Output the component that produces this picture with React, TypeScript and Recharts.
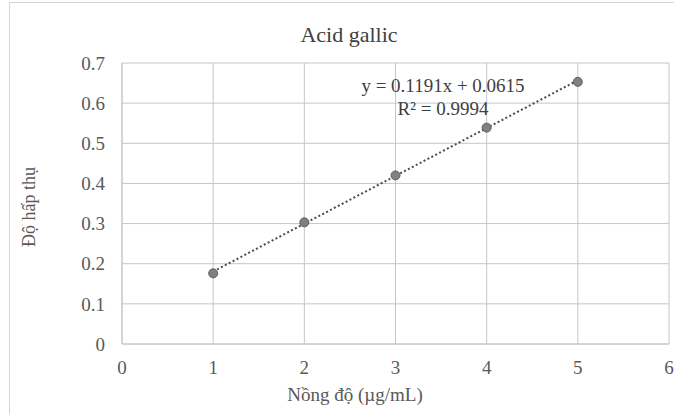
import React from "react";
import {
  ComposedChart,
  Scatter,
  Line,
  XAxis,
  YAxis,
  CartesianGrid,
} from "recharts";

// concentration (µg/mL) and absorbance
const concentrations = [1, 2, 3, 4, 5];
const absorbances = [0.176, 0.303, 0.42, 0.539, 0.653];

// linear trendline from the equation printed on the chart, x = 1 .. 5
const trendX = [1, 5];
const trendY = [0.1806, 0.657];

const xTicks = [0, 1, 2, 3, 4, 5, 6];
const yTicks = [0, 0.1, 0.2, 0.3, 0.4, 0.5, 0.6, 0.7];

const points = concentrations.map((x, i) => ({ x, y: absorbances[i] }));
const trend = trendX.map((x, i) => ({ x, y: trendY[i] }));

const FONT = "Liberation Serif, DejaVu Serif, serif";
const TEXT = "#595959";
const GRID = "#c6c6c6";

const Dot = (props: any) => {
  const { cx, cy } = props;
  if (cx == null || cy == null) return null;
  return <circle cx={cx} cy={cy} r={4.5} fill="#808080" stroke="#5e5e5e" strokeWidth={1} />;
};

export default function App() {
  return (
    <div
      style={{
        position: "fixed",
        left: 0,
        top: 0,
        width: 674,
        height: 414,
        overflow: "hidden",
        background: "#fff",
        fontFamily: FONT,
      }}
    >
      <div
        style={{
          position: "absolute",
          left: 9,
          top: 2,
          width: 700,
          height: 440,
          border: "1px solid #d4d4d4",
        }}
      >
        <ComposedChart
          width={700}
          height={440}
          margin={{ top: 60, right: 41, left: 0, bottom: 0 }}
          style={{ fontFamily: FONT }}
        >
          <CartesianGrid stroke={GRID} strokeWidth={1} />
          <XAxis
            type="number"
            dataKey="x"
            domain={[0, 6]}
            ticks={xTicks}
            allowDataOverflow
            height={99}
            tickLine={false}
            axisLine={{ stroke: GRID }}
            tickMargin={11}
            tick={{ fontSize: 19, fill: TEXT, fontFamily: FONT }}
          />
          <YAxis
            type="number"
            domain={[0, 0.7]}
            ticks={yTicks}
            allowDataOverflow
            width={112}
            tickLine={false}
            axisLine={{ stroke: GRID }}
            tickMargin={11}
            tick={{ fontSize: 19, fill: TEXT, fontFamily: FONT }}
          />
          <Line
            data={trend}
            dataKey="y"
            type="linear"
            stroke="#4a4a4a"
            strokeWidth={2}
            strokeDasharray="2 2.4"
            dot={false}
            activeDot={false}
            isAnimationActive={false}
          />
          <Scatter data={points} dataKey="y" shape={Dot} isAnimationActive={false} />
        </ComposedChart>
      </div>

      {/* chart title */}
      <div
        style={{
          position: "absolute",
          left: 249,
          width: 200,
          top: 22,
          textAlign: "center",
          fontSize: 22,
          color: "#404040",
          lineHeight: "26px",
        }}
      >
        Acid gallic
      </div>

      {/* trendline label */}
      <div
        style={{
          position: "absolute",
          left: 343,
          width: 200,
          top: 74,
          textAlign: "center",
          fontSize: 19,
          color: "#404040",
          lineHeight: "23px",
        }}
      >
        <div>y = 0.1191x + 0.0615</div>
        <div>R² = 0.9994</div>
      </div>

      {/* x axis title */}
      <div
        style={{
          position: "absolute",
          left: 255,
          width: 200,
          top: 383,
          textAlign: "center",
          fontSize: 19,
          color: TEXT,
          lineHeight: "24px",
        }}
      >
        Nồng độ (µg/mL)
      </div>

      {/* y axis title */}
      <div
        style={{
          position: "absolute",
          left: 29 - 60,
          top: 207 - 12,
          width: 120,
          textAlign: "center",
          fontSize: 18,
          color: TEXT,
          lineHeight: "24px",
          transform: "rotate(-90deg)",
        }}
      >
        Độ hấp thụ
      </div>
    </div>
  );
}
